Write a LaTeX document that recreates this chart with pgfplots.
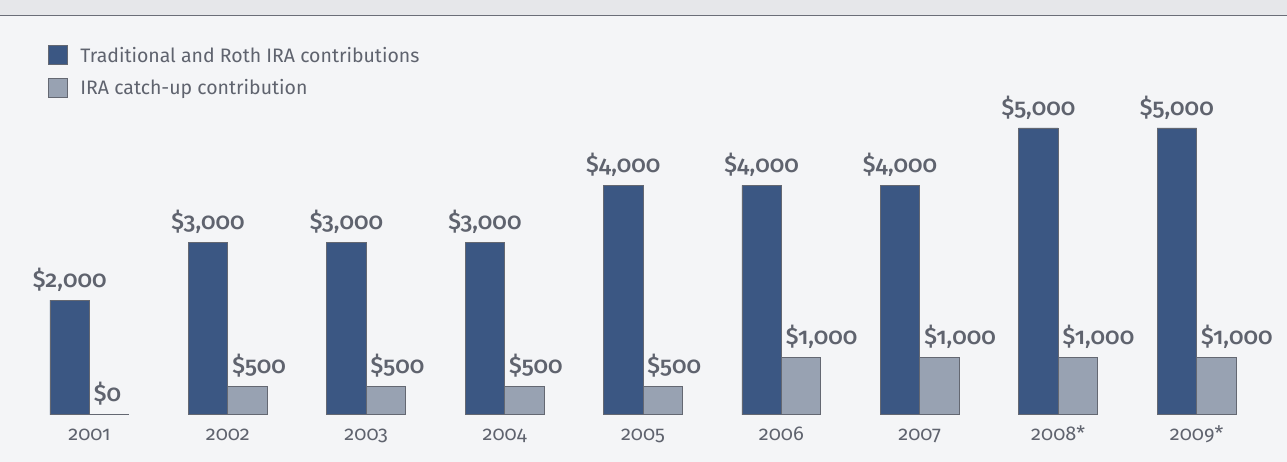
\documentclass[border=0pt]{standalone}
\usepackage{fontspec}
\setmainfont{Fira Sans}[Numbers=OldStyle]
\newfontfamily\labfont{Fira Sans Medium}[Numbers=OldStyle]
\usepackage{pgfplots}
\usepackage{pgfplotstable}
\pgfplotsset{compat=1.18}
\definecolor{darkbar}{HTML}{3B5783}
\definecolor{graybar}{HTML}{98A2B2}
\definecolor{outl}{HTML}{646872}
\definecolor{txt}{HTML}{5F636E}
\definecolor{bgc}{HTML}{F4F5F7}
\definecolor{band}{HTML}{E6E7EA}
\definecolor{bandline}{HTML}{6B6E78}

\pgfplotstableread{
x y lab
0 2000 2,000
1 3000 3,000
2 3000 3,000
3 3000 3,000
4 4000 4,000
5 4000 4,000
6 4000 4,000
7 5000 5,000
8 5000 5,000
}\trad
\pgfplotstableread{
x y lab
0 0 0
1 500 500
2 500 500
3 500 500
4 500 500
5 1000 1,000
6 1000 1,000
7 1000 1,000
8 1000 1,000
}\catchup

\begin{document}
\begin{tikzpicture}
\begin{axis}[
  at={(0,0)}, anchor=south west,
  width=1287pt, height=462pt, scale only axis,
  xmin=-0.6426, xmax=8.6498,
  ymin=-819, ymax=7230,
  clip=false,
  axis line style={draw=none},
  major tick length=0pt,
  ytick=\empty,
  xtick={0,...,8},
  xticklabels={2001,2002,2003,2004,2005,2006,2007,2008*,2009*},
  xticklabel style={font=\fontsize{20}{24}\selectfont, text=txt, anchor=base, yshift=21pt},
  axis background/.style={fill=bgc},
  ybar=0pt, bar width=39.5pt,
  point meta=explicit symbolic,
  nodes near coords={\$\pgfplotspointmeta},
  legend style={at={(axis description cs:0.0365,0.9026)}, anchor=north west,
    draw=none, fill=none, font=\fontsize{19.5}{23}\selectfont, text=txt,
    inner sep=0pt, row sep=13pt, nodes={inner sep=0pt},
    /tikz/every odd column/.append style={column sep=13pt}},
  legend cell align=left,
  legend image code/.code={\draw[#1] (0pt,-9.5pt) rectangle (19pt,9.5pt);},
]
\fill[band] (rel axis cs:0,1) rectangle (rel axis cs:1,0.9675);
\draw[bandline, line width=1pt] (rel axis cs:0,0.9675) -- (rel axis cs:1,0.9675);
\addplot[fill=darkbar, draw=outl, line width=0.8pt,
  every node near coord/.append style={font=\labfont\fontsize{23.5}{28}\selectfont, text=txt, anchor=base, yshift=13pt}]
  table[x=x, y=y, meta=lab] {\trad};
\addplot[fill=graybar, draw=outl, line width=0.8pt,
  every node near coord/.append style={font=\labfont\fontsize{23.5}{28}\selectfont, text=txt, anchor=base west, xshift=-19pt, yshift=13pt}]
  table[x=x, y=y, meta=lab] {\catchup};
\legend{Traditional and Roth IRA contributions, IRA catch-up contribution}
\end{axis}
\end{tikzpicture}
\end{document}
